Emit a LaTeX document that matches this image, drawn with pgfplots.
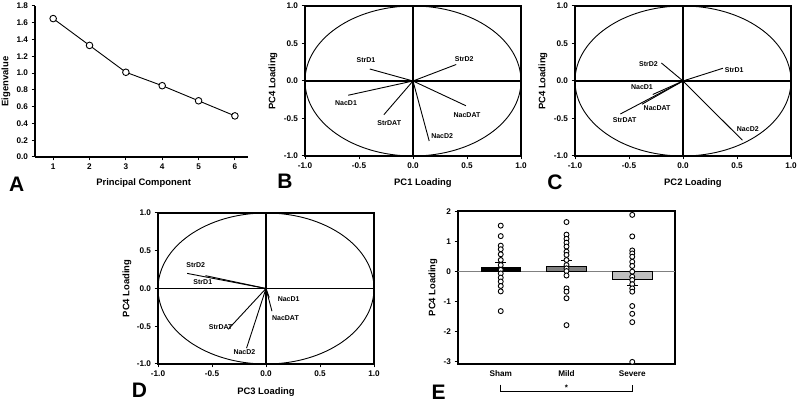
\documentclass[border=0pt]{standalone}
\usepackage{pgfplots}
\pgfplotsset{compat=1.18}
\usepackage{fontspec}
\setmainfont{Liberation Sans}
\begin{document}
\begin{tikzpicture}
\useasboundingbox (0,0) rectangle (800pt,403pt);
\pgfplotsset{
  panel/.style={scale only axis, clip=false, anchor=south west,
    axis line style={line width=1.3pt,-},
    every tick/.style={black,line width=1pt},
    tick align=outside, major tick length=3.5pt,
    tick label style={font=\bfseries\fontsize{8.2}{9}\selectfont},
    label style={font=\bfseries\fontsize{9.4}{11}\selectfont},
    /pgf/number format/assume math mode=true},
  onedecx/.style={xticklabel style={/pgf/number format/fixed,/pgf/number format/fixed zerofill,/pgf/number format/precision=1}},
  onedecy/.style={yticklabel style={/pgf/number format/fixed,/pgf/number format/fixed zerofill,/pgf/number format/precision=1}},
  loading/.style={panel, width=216pt, height=150pt,
    xmin=-1,xmax=1,ymin=-1,ymax=1,
    xtick={-1,-0.5,0,0.5,1}, ytick={-1,-0.5,0,0.5,1},
    xtick pos=left, ytick pos=left, onedecx, onedecy,
    ylabel={PC4 Loading},
    y label style={at={(axis description cs:-0.148,0.5)},anchor=center},
    x label style={at={(axis description cs:0.546,-0.18)},anchor=center}},
  vec/.style={black, line width=0.9pt},
  zl/.style={black, line width=1.3pt},
}
\tikzset{lab/.style={font=\bfseries\fontsize{7}{8}\selectfont, inner sep=0pt},
         letter/.style={font=\bfseries\fontsize{21}{21}\selectfont, inner sep=0pt}}

% ---------------- Panel A ----------------
\begin{axis}[panel, at={(35pt,246pt)}, width=213pt, height=151pt,
  axis x line*=bottom, axis y line*=left,
  xmin=0.5, xmax=6.36, ymin=0, ymax=1.8,
  xtick={1,2,3,4,5,6}, ytick={0,0.2,0.4,0.6,0.8,1.0,1.2,1.4,1.6,1.8}, onedecy,
  xlabel={Principal Component}, ylabel={Eigenvalue},
  y label style={at={(axis description cs:-0.136,0.5)},anchor=center},
  x label style={at={(axis description cs:0.51,-0.172)},anchor=center}]
\addplot[black, line width=0.9pt, mark=*, mark size=3.3pt, mark options={fill=white, line width=0.9pt}]
  coordinates {(1,1.65) (2,1.33) (3,1.01) (4,0.85) (5,0.67) (6,0.49)};
\end{axis}
\node[letter] at (16.7pt,218.5pt) {A};

% ---------------- Panel B ----------------
\begin{axis}[loading, at={(305pt,247pt)}, xlabel={PC1 Loading}]
\draw[line width=0.9pt] (axis cs:0,0) ellipse [x radius=1, y radius=1];
\addplot[zl] coordinates {(-1,0) (1,0)};
\addplot[zl] coordinates {(0,-1) (0,1)};
\addplot[vec] coordinates {(0,0) (-0.40,0.16)};
\addplot[vec] coordinates {(0,0) (0.40,0.22)};
\addplot[vec] coordinates {(0,0) (-0.60,-0.19)};
\addplot[vec] coordinates {(0,0) (-0.27,-0.45)};
\addplot[vec] coordinates {(0,0) (0.15,-0.80)};
\addplot[vec] coordinates {(0,0) (0.49,-0.33)};
\node[lab] at (axis cs:-0.435,0.28) {StrD1};
\node[lab] at (axis cs:0.475,0.29) {StrD2};
\node[lab] at (axis cs:-0.62,-0.30) {NacD1};
\node[lab] at (axis cs:-0.22,-0.56) {StrDAT};
\node[lab] at (axis cs:0.27,-0.74) {NacD2};
\node[lab] at (axis cs:0.50,-0.45) {NacDAT};
\end{axis}
\node[letter] at (285pt,221.3pt) {B};

% ---------------- Panel C ----------------
\begin{axis}[loading, at={(575pt,247pt)}, xlabel={PC2 Loading}]
\draw[line width=0.9pt] (axis cs:0,0) ellipse [x radius=1, y radius=1];
\addplot[zl] coordinates {(-1,0) (1,0)};
\addplot[zl] coordinates {(0,-1) (0,1)};
\addplot[vec] coordinates {(0,0) (-0.20,0.24)};
\addplot[vec] coordinates {(0,0) (0.37,0.17)};
\addplot[vec] coordinates {(0,0) (-0.28,-0.18)};
\addplot[vec] coordinates {(0,0) (-0.38,-0.31)};
\addplot[vec] coordinates {(0,0) (-0.58,-0.44)};
\addplot[vec] coordinates {(0,0) (0.55,-0.79)};
\node[lab] at (axis cs:-0.32,0.23) {StrD2};
\node[lab] at (axis cs:0.475,0.15) {StrD1};
\node[lab] at (axis cs:-0.38,-0.085) {NacD1};
\node[lab] at (axis cs:-0.24,-0.36) {NacDAT};
\node[lab] at (axis cs:-0.54,-0.52) {StrDAT};
\node[lab] at (axis cs:0.60,-0.64) {NacD2};
\end{axis}
\node[letter] at (555pt,221pt) {C};

% ---------------- Panel D ----------------
\begin{axis}[loading, at={(158pt,39pt)}, height=151pt, xlabel={PC3 Loading},
  y label style={at={(axis description cs:-0.144,0.5)},anchor=center},
  x label style={at={(axis description cs:0.5,-0.183)},anchor=center}]
\draw[line width=0.9pt] (axis cs:0,0) ellipse [x radius=1, y radius=1];
\addplot[zl] coordinates {(-1,0) (1,0)};
\addplot[zl] coordinates {(0,-1) (0,1)};
\addplot[vec] coordinates {(0,0) (-0.73,0.20)};
\addplot[vec] coordinates {(0,0) (-0.56,0.17)};
\addplot[vec] coordinates {(0,0) (-0.35,-0.54)};
\addplot[vec] coordinates {(0,0) (-0.18,-0.79)};
\addplot[vec] coordinates {(0,0) (0.03,-0.12)};
\addplot[vec] coordinates {(0,0) (0.055,-0.30)};
\node[lab] at (axis cs:-0.65,0.305) {StrD2};
\node[lab] at (axis cs:-0.585,0.09) {StrD1};
\node[lab] at (axis cs:-0.42,-0.51) {StrDAT};
\node[lab] at (axis cs:-0.20,-0.84) {NacD2};
\node[lab] at (axis cs:0.21,-0.137) {NacD1};
\node[lab] at (axis cs:0.18,-0.39) {NacDAT};
\end{axis}
\node[letter] at (139.5pt,12.5pt) {D};

% ---------------- Panel E ----------------
\begin{axis}[panel, at={(458pt,39pt)}, width=217pt, height=153pt,
  xmin=0.35, xmax=3.65, ymin=-3.09, ymax=2.03,
  xtick={1,2,3}, xticklabels={Sham,Mild,Severe},
  xtick style={draw=none}, ytick={-3,-2,-1,0,1,2}, ytick pos=left,
  ylabel={PC4 Loading},
  y label style={at={(axis description cs:-0.115,0.5)},anchor=center}]
\addplot[gray, line width=0.6pt] coordinates {(0.35,0) (3.65,0)};
\addplot[ybar, bar width=0.6, bar shift=0pt, fill=black, draw=black, line width=0.7pt] coordinates {(1,0.13)};
\addplot[ybar, bar width=0.6, bar shift=0pt, fill=black!50, draw=black, line width=0.7pt] coordinates {(2,0.19)};
\addplot[ybar, bar width=0.6, bar shift=0pt, fill=black!25, draw=black, line width=0.7pt] coordinates {(3,-0.26)};
\addplot[only marks, mark=*, mark size=2.5pt, mark options={fill=white, draw=black, line width=0.9pt}]
  coordinates {(1,1.54) (1,1.19) (1,0.87) (1,0.75) (1,0.58) (1,0.39) (1,0.22) (1,0.06) (1,-0.06) (1,-0.20) (1,-0.33) (1,-0.48) (1,-0.66) (1,-1.32)};
\addplot[only marks, mark=*, mark size=2.5pt, mark options={fill=white, draw=black, line width=0.9pt}]
  coordinates {(2,1.66) (2,1.24) (2,1.10) (2,0.97) (2,0.84) (2,0.67) (2,0.56) (2,0.39) (2,0.22) (2,0.11) (2,0.02) (2,-0.13) (2,-0.56) (2,-0.67) (2,-0.89) (2,-1.79)};
\addplot[only marks, mark=*, mark size=2.5pt, mark options={fill=white, draw=black, line width=0.9pt}]
  coordinates {(3,1.90) (3,1.18) (3,0.71) (3,0.61) (3,0.50) (3,0.33) (3,0.19) (3,0.0) (3,-0.17) (3,-0.28) (3,-0.42) (3,-0.56) (3,-0.67) (3,-1.15) (3,-1.41) (3,-1.69) (3,-3.02)};
\addplot[black, line width=0.9pt] coordinates {(1,0.13) (1,0.31)};
\addplot[black, line width=0.9pt] coordinates {(0.92,0.31) (1.08,0.31)};
\addplot[black, line width=0.9pt] coordinates {(2,0.19) (2,0.36)};
\addplot[black, line width=0.9pt] coordinates {(1.92,0.36) (2.08,0.36)};
\addplot[black, line width=0.9pt] coordinates {(3,-0.26) (3,-0.45)};
\addplot[black, line width=0.9pt] coordinates {(2.92,-0.45) (3.08,-0.45)};
\draw[line width=0.8pt] (axis cs:1,-3.78) -- (axis cs:1,-4.02) -- (axis cs:3,-4.02) -- (axis cs:3,-3.78);
\node[font=\bfseries\fontsize{8}{9}\selectfont, inner sep=0pt] at (axis cs:2,-3.9) {*};
\end{axis}
\node[letter] at (438.5pt,11pt) {E};
\end{tikzpicture}
\end{document}
